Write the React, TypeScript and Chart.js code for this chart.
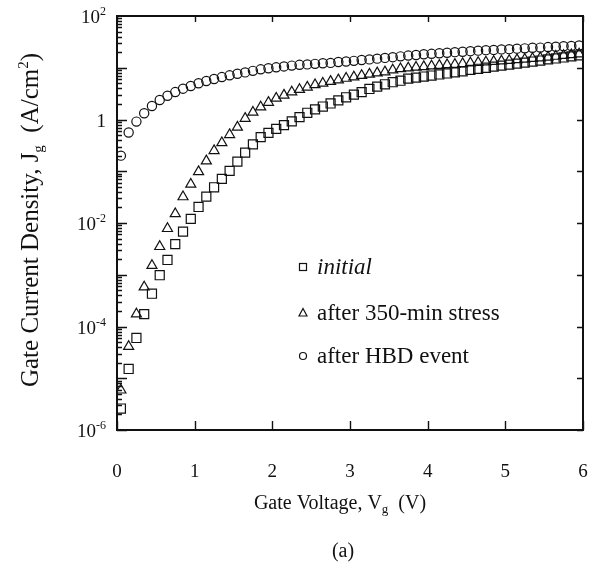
import React, { useEffect, useRef } from "react";
import { Chart, registerables } from "chart.js";

Chart.register(...registerables);

// Gate voltage (V) of each measured point
const voltages = [
  0.05, 0.15, 0.25, 0.35, 0.45, 0.55, 0.65, 0.75, 0.85, 0.95,
  1.05, 1.15, 1.25, 1.35, 1.45, 1.55, 1.65, 1.75, 1.85, 1.95,
  2.05, 2.15, 2.25, 2.35, 2.45, 2.55, 2.65, 2.75, 2.85, 2.95,
  3.05, 3.15, 3.25, 3.35, 3.45, 3.55, 3.65, 3.75, 3.85, 3.95,
  4.05, 4.15, 4.25, 4.35, 4.45, 4.55, 4.65, 4.75, 4.85, 4.95,
  5.05, 5.15, 5.25, 5.35, 5.45, 5.55, 5.65, 5.75, 5.85, 5.95,
];

// Gate current density (A/cm^2)
const initialJ = [
  2.6e-6, 1.51e-5, 6.0e-5, 1.74e-4, 4.3e-4, 9.8e-4, 1.93e-3, 3.9e-3, 6.8e-3, 1.2e-2,
  2.04e-2, 3.24e-2, 4.9e-2, 7.1e-2, 0.102, 0.153, 0.229, 0.331, 0.457, 0.55,
  0.66, 0.78, 0.92, 1.11, 1.35, 1.57, 1.78, 2.04, 2.34, 2.69,
  3.02, 3.39, 3.89, 4.32, 4.79, 5.25, 5.62, 6.17, 6.46, 6.76,
  7.08, 7.41, 7.76, 8.13, 8.51, 9.12, 9.55, 10.0, 10.5, 11.0,
  11.5, 12.0, 12.6, 13.2, 13.8, 14.5, 15.1, 15.8, 16.6, 17.4,
];

const stressJ = [
  5.9e-6, 4.1e-5, 1.74e-4, 5.8e-4, 1.51e-3, 3.5e-3, 7.8e-3, 1.51e-2, 3.2e-2, 5.6e-2,
  9.8e-2, 0.158, 0.25, 0.355, 0.51, 0.71, 1.05, 1.38, 1.74, 2.14,
  2.57, 2.95, 3.39, 3.8, 4.22, 4.68, 5.01, 5.43, 5.82, 6.24,
  6.61, 7.08, 7.5, 7.94, 8.32, 9.02, 9.55, 9.89, 10.2, 10.5,
  10.8, 11.1, 11.4, 11.6, 12.0, 12.3, 12.6, 12.9, 13.2, 13.5,
  13.8, 14.3, 14.6, 15.1, 15.5, 16.0, 16.6, 17.2, 17.8, 18.4,
];

const hbdJ = [
  0.2, 0.56, 0.91, 1.32, 1.82, 2.38, 2.88, 3.39, 3.94, 4.44,
  5.01, 5.55, 6.07, 6.61, 7.14, 7.67, 8.13, 8.71, 9.33, 9.77,
  10.2, 10.6, 11.0, 11.4, 11.6, 11.9, 12.2, 12.4, 12.9, 13.2,
  13.6, 14.1, 14.5, 15.0, 15.5, 16.0, 16.6, 17.2, 17.6, 18.2,
  18.6, 19.1, 19.5, 20.0, 20.4, 20.9, 21.4, 21.9, 22.1, 22.6,
  22.9, 23.4, 23.7, 24.3, 24.5, 25.1, 25.4, 26.0, 26.3, 26.9,
];

const seriesNames = ["initial", "after 350-min stress", "after HBD event"];
const xTickValues = [0, 1, 2, 3, 4, 5, 6];
const xTickLabels = ["0", "1", "2", "3", "4", "5", "6"];
const yTickValues = [100, 1, 0.01, 1e-4, 1e-6];
const yTickBases = ["10", "1", "10", "10", "10"];
const yTickExps = ["2", "", "-2", "-4", "-6"];
const yDecades = [-6, -5, -4, -3, -2, -1, 0, 1];

const FONT = '"Liberation Serif", "DejaVu Serif", serif';

type Part = { t: string; size: number; dy?: number; italic?: boolean };

function partsWidth(ctx: CanvasRenderingContext2D, parts: Part[]) {
  let w = 0;
  for (const p of parts) {
    ctx.font = `${p.italic ? "italic " : ""}${p.size}px ${FONT}`;
    w += ctx.measureText(p.t).width;
  }
  return w;
}

function drawParts(
  ctx: CanvasRenderingContext2D,
  parts: Part[],
  x: number,
  y: number,
  align: "left" | "center" | "right"
) {
  const w = partsWidth(ctx, parts);
  let cx = align === "left" ? x : align === "center" ? x - w / 2 : x - w;
  ctx.textAlign = "left";
  ctx.textBaseline = "alphabetic";
  for (const p of parts) {
    ctx.font = `${p.italic ? "italic " : ""}${p.size}px ${FONT}`;
    ctx.fillText(p.t, cx, y + (p.dy || 0));
    cx += ctx.measureText(p.t).width;
  }
}

const framePlugin = {
  id: "frameAndText",
  afterDraw(chart: any) {
    const { ctx, chartArea: a, scales } = chart;
    const xs = scales.x;
    const ys = scales.y;
    ctx.save();
    ctx.strokeStyle = "#111";
    ctx.fillStyle = "#111";
    ctx.lineWidth = 2;
    ctx.strokeRect(a.left, a.top, a.right - a.left, a.bottom - a.top);

    // y ticks (log, inside)
    ctx.lineWidth = 1.4;
    ctx.beginPath();
    for (const e of yDecades) {
      for (let m = 1; m <= 9; m++) {
        const v = m * Math.pow(10, e);
        const py = Math.round(ys.getPixelForValue(v)) + 0.5;
        const len = m === 1 ? 10 : 5;
        ctx.moveTo(a.left, py);
        ctx.lineTo(a.left + len, py);
        if (m === 1) {
          ctx.moveTo(a.right, py);
          ctx.lineTo(a.right - 6, py);
        }
      }
    }
    // x ticks
    for (const v of xTickValues) {
      const px = Math.round(xs.getPixelForValue(v)) + 0.5;
      ctx.moveTo(px, a.bottom);
      ctx.lineTo(px, a.bottom - 9);
      ctx.moveTo(px, a.top);
      ctx.lineTo(px, a.top + 6);
    }
    ctx.stroke();

    // y tick labels
    yTickValues.forEach((v, i) => {
      const py = ys.getPixelForValue(v);
      const parts: Part[] = [{ t: yTickBases[i], size: 19 }];
      if (yTickExps[i]) parts.push({ t: yTickExps[i], size: 12, dy: -8 });
      drawParts(ctx, parts, 106, py + 7, "right");
    });

    // x tick labels
    xTickValues.forEach((v, i) => {
      const px = xs.getPixelForValue(v);
      drawParts(ctx, [{ t: xTickLabels[i], size: 19 }], px, 477, "center");
    });

    // x title
    drawParts(
      ctx,
      [
        { t: "Gate Voltage, V", size: 20 },
        { t: "g", size: 13, dy: 4 },
        { t: "  (V)", size: 20 },
      ],
      340,
      509,
      "center"
    );
    drawParts(ctx, [{ t: "(a)", size: 20 }], 343, 557, "center");

    // y title
    ctx.save();
    ctx.translate(38, 220);
    ctx.rotate(-Math.PI / 2);
    drawParts(
      ctx,
      [
        { t: "Gate Current Density, J", size: 25 },
        { t: "g", size: 15, dy: 5 },
        { t: "  (A/cm", size: 25 },
        { t: "2", size: 15, dy: -10 },
        { t: ")", size: 25 },
      ],
      0,
      0,
      "center"
    );
    ctx.restore();

    // legend
    const lx = 303;
    const rows = [267, 313, 356];
    ctx.lineWidth = 1.2;
    ctx.strokeRect(lx - 3.5, rows[0] - 3.5, 7, 7);
    ctx.beginPath();
    ctx.moveTo(lx, rows[1] - 4.5);
    ctx.lineTo(lx + 4, rows[1] + 3);
    ctx.lineTo(lx - 4, rows[1] + 3);
    ctx.closePath();
    ctx.stroke();
    ctx.beginPath();
    ctx.arc(lx, rows[2], 3.5, 0, Math.PI * 2);
    ctx.stroke();
    drawParts(ctx, [{ t: seriesNames[0], size: 23, italic: true }], 317, rows[0] + 7, "left");
    drawParts(ctx, [{ t: seriesNames[1], size: 23 }], 317, rows[1] + 7, "left");
    drawParts(ctx, [{ t: seriesNames[2], size: 23 }], 317, rows[2] + 7, "left");
    ctx.restore();
  },
};

function toPoints(ys: number[]) {
  return voltages.map((v, i) => ({ x: v, y: ys[i] }));
}

export default function App() {
  const ref = useRef<HTMLCanvasElement>(null);
  useEffect(() => {
    if (!ref.current) return;
    const common = {
      showLine: false,
      borderColor: "#111",
      backgroundColor: "rgba(0,0,0,0)",
      pointBorderWidth: 1.2,
    };
    const chart = new Chart(ref.current, {
      type: "scatter",
      data: {
        datasets: [
          { ...common, label: seriesNames[0], data: toPoints(initialJ), pointStyle: "rect", pointRadius: 6.4 },
          { ...common, label: seriesNames[1], data: toPoints(stressJ), pointStyle: "triangle", pointRadius: 5.8 },
          { ...common, label: seriesNames[2], data: toPoints(hbdJ), pointStyle: "circle", pointRadius: 4.6 },
        ],
      } as any,
      options: {
        animation: false,
        responsive: false,
        devicePixelRatio: 1,
        layout: { padding: { top: 16, right: 9, left: 0, bottom: 0 } },
        plugins: { legend: { display: false }, tooltip: { enabled: false } },
        scales: {
          x: {
            type: "linear",
            min: 0,
            max: 6,
            grid: { display: false },
            border: { display: false },
            ticks: { display: false },
            afterFit(s: any) {
              s.height = 144;
            },
          },
          y: {
            type: "logarithmic",
            min: 1e-6,
            max: 100,
            grid: { display: false },
            border: { display: false },
            ticks: { display: false },
            afterFit(s: any) {
              s.width = 117;
            },
          },
        },
      } as any,
      plugins: [framePlugin],
    });
    return () => chart.destroy();
  }, []);
  return (
    <div style={{ position: "absolute", left: 0, top: 0, width: 592, height: 574, background: "#fff" }}>
      <canvas ref={ref} width={592} height={574} style={{ display: "block" }} />
    </div>
  );
}
